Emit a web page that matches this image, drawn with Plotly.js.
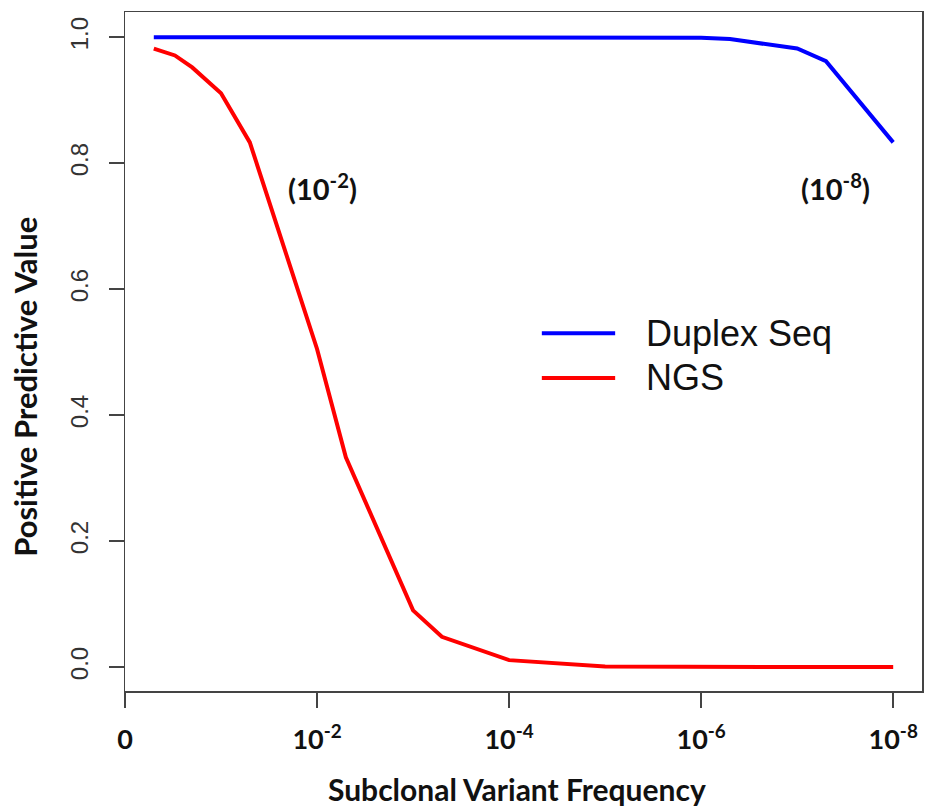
<!DOCTYPE html>
<html>
<head>
<meta charset="utf-8">
<script src="https://cdn.plot.ly/plotly-3.0.1.min.js"></script>
<style>body{margin:0;background:#fff;}#chart{width:929px;height:810px;}</style>
</head>
<body>
<div id="chart"></div>
<script>
// exponent of subclonal variant frequency (x = -log10 f)
const duplexX = [0.3, 0.52, 0.7, 1.0, 1.3, 2.0, 2.3, 3.0, 3.3, 4.0, 5.0, 6.0, 6.3, 7.0, 7.3, 8.0];
const duplexY = [1, 1, 1, 1, 1, 1, 1, 1, 1, 1, 0.9995, 0.999, 0.997, 0.982, 0.962, 0.833];
const ngsX = [0.3, 0.52, 0.7, 1.0, 1.3, 2.0, 2.3, 3.0, 3.3, 4.0, 5.0, 6.0, 7.0, 8.0];
const ngsY = [0.982, 0.971, 0.952, 0.911, 0.833, 0.505, 0.333, 0.09, 0.048, 0.011, 0.001, 0.0, 0.0, 0.0];
const xTickVals = [0, 2, 4, 6, 8];
const xTickText = ['0', '10<sup>-2</sup>', '10<sup>-4</sup>', '10<sup>-6</sup>', '10<sup>-8</sup>'];
const yTickVals = [0, 0.2, 0.4, 0.6, 0.8, 1.0];
const yTickText = ['0.0', '0.2', '0.4', '0.6', '0.8', '1.0'];
const seriesNames = ['Duplex Seq', 'NGS'];
const seriesColors = ['#0000ff', '#ff0000'];
const noteTexts = ['(10<sup>-2</sup>)', '(10<sup>-8</sup>)'];
const xTitle = 'Subclonal Variant Frequency';
const yTitle = 'Positive Predictive Value';

const boldFont = 'Lato, "Open Sans", sans-serif';
const traces = [
  {x: duplexX, y: duplexY, mode: 'lines', name: seriesNames[0], line: {color: seriesColors[0], width: 4}, showlegend: false},
  {x: ngsX, y: ngsY, mode: 'lines', name: seriesNames[1], line: {color: seriesColors[1], width: 4}, showlegend: false}
];

const legendRowsY = [0.527, 0.461];
const shapes = legendRowsY.map((yy, i) => ({
  type: 'line', xref: 'paper', yref: 'paper', x0: 0.523, x1: 0.615, y0: yy, y1: yy,
  line: {color: seriesColors[i], width: 4}
}));
const annotations = legendRowsY.map((yy, i) => ({
  xref: 'paper', yref: 'paper', x: 0.651, y: yy, xanchor: 'left', yanchor: 'middle',
  text: seriesNames[i], showarrow: false,
  font: {family: '"Liberation Sans", Arial, sans-serif', size: 36, color: '#111'}
}));
annotations.push({xref: 'paper', yref: 'paper', x: 0.248, y: 0.743, xanchor: 'center', yanchor: 'middle',
  text: '<b>' + noteTexts[0] + '</b>', showarrow: false, font: {family: boldFont, size: 29, color: '#111'}});
annotations.push({xref: 'paper', yref: 'paper', x: 0.891, y: 0.743, xanchor: 'center', yanchor: 'middle',
  text: '<b>' + noteTexts[1] + '</b>', showarrow: false, font: {family: boldFont, size: 29, color: '#111'}});
// axis titles
annotations.push({xref: 'paper', yref: 'paper', x: 0.492, y: -0.145, xanchor: 'center', yanchor: 'middle',
  text: '<b>' + xTitle + '</b>', showarrow: false, font: {family: boldFont, size: 30, color: '#111'}});
annotations.push({xref: 'paper', yref: 'paper', x: -0.1255, y: 0.448, xanchor: 'center', yanchor: 'middle',
  textangle: -90, text: '<b>' + yTitle + '</b>', showarrow: false, font: {family: boldFont, size: 31, color: '#111'}});

const layout = {
  width: 929, height: 810,
  margin: {l: 125, r: 7, t: 12, b: 119},
  paper_bgcolor: '#fff', plot_bgcolor: '#fff',
  xaxis: {
    range: [0, 8.3], showgrid: false, zeroline: false,
    showline: true, mirror: true, linecolor: '#444', linewidth: 1.5,
    ticks: 'outside', ticklen: 15, tickcolor: '#444', tickwidth: 1.5,
    tickvals: xTickVals, ticktext: xTickText.map(t => '<b>' + t + '</b>'),
    tickfont: {family: boldFont, size: 27, color: '#111'},
    ticklabelstandoff: 9
  },
  yaxis: {
    range: [-0.038, 1.04], showgrid: false, zeroline: false,
    showline: true, mirror: true, linecolor: '#444', linewidth: 1.5,
    ticks: 'outside', ticklen: 15, tickcolor: '#444', tickwidth: 1.5,
    tickvals: yTickVals, ticktext: yTickText, tickangle: -90,
    tickfont: {family: '"Liberation Sans", Arial, sans-serif', size: 24, color: '#333'},
    ticklabelstandoff: 11
  },
  shapes: shapes,
  annotations: annotations,
  showlegend: false
};

Plotly.newPlot('chart', traces, layout, {displayModeBar: false, staticPlot: true});
</script>
</body>
</html>
